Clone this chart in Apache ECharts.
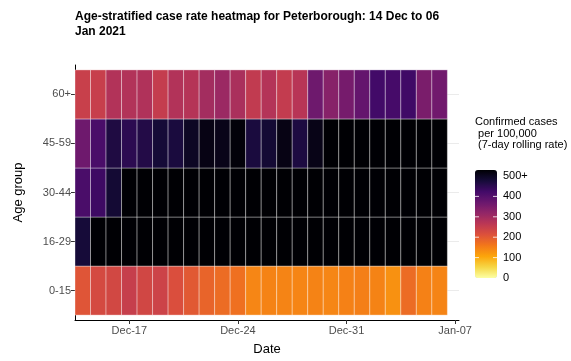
<!DOCTYPE html>
<html><head><meta charset="utf-8">
<script src="https://cdn.jsdelivr.net/npm/echarts@6/dist/echarts.min.js"></script>
<style>html,body{margin:0;padding:0;background:#fff}#c{width:571px;height:361px}</style>
</head><body><div id="c"></div>
<script>
// ---- data ----
const dates = ['2020-12-14','2020-12-15','2020-12-16','2020-12-17','2020-12-18','2020-12-19','2020-12-20','2020-12-21',
  '2020-12-22','2020-12-23','2020-12-24','2020-12-25','2020-12-26','2020-12-27','2020-12-28','2020-12-29',
  '2020-12-30','2020-12-31','2021-01-01','2021-01-02','2021-01-03','2021-01-04','2021-01-05','2021-01-06'];
const ageGroups = ['0-15','16-29','30-44','45-59','60+'];
// 7-day rolling case rate per 100,000 (values of 500 mean "500+")
const rate_0_15  = [195,213,218,235,220,226,205,190,176,166,160,135,138,137,136,138,135,140,142,138,122,166,140,137];
const rate_16_29 = [450,500,500,500,500,500,500,500,500,500,500,500,500,500,500,500,500,500,500,500,500,500,500,500];
const rate_30_44 = [390,405,455,500,500,500,500,500,500,500,500,500,500,500,500,500,500,500,500,500,500,500,500,500];
const rate_45_59 = [345,390,440,425,435,452,445,470,485,480,495,445,455,485,442,482,500,500,500,500,500,500,500,500];
const rate_60p   = [232,234,262,262,265,238,262,258,280,290,272,242,260,240,255,345,315,335,358,400,395,402,330,342];
const xTickDays = [3,10,17,24];
const xTickLabels = ['Dec-17','Dec-24','Dec-31','Jan-07'];
const legendBreaks = [500,400,300,200,100,0];
const legendLabels = ['500+','400','300','200','100','0'];
const infernoRev = ['#FCFFA4','#F6D746','#FCA50A','#F37819','#DD513A','#BC3754','#932667','#6A176E','#420A68','#160B39','#000004'];

const rows = [rate_0_15, rate_16_29, rate_30_44, rate_45_59, rate_60p];
const cells = [];
rows.forEach((arr, r) => arr.forEach((v, d) => cells.push([d, r, Math.min(v, 500)])));

const FONT = '"Liberation Sans", Arial, sans-serif';
const chart = echarts.init(document.getElementById('c'), null, {renderer: 'canvas'});

// legend geometry
const barLeft = 475, barTop = 170, barW = 22, barH = 108;
const yOf = v => barTop + barH - v / 500 * (barH - 6);
const graphics = [];
graphics.push({type: 'text', left: 475, top: 116, style: {
  text: 'Confirmed cases\n per 100,000\n (7-day rolling rate)', font: '11px ' + FONT, fill: '#000', lineHeight: 11.7}});
legendBreaks.forEach((b, i) => {
  graphics.push({type: 'text', x: 503, y: yOf(b), style: {text: legendLabels[i], font: '11px ' + FONT,
    fill: '#000', verticalAlign: 'middle', align: 'left'}});
  if (b > 0 && b < 500) {
    graphics.push({type: 'line', shape: {x1: barLeft, y1: yOf(b), x2: barLeft + 4, y2: yOf(b)}, style: {stroke: 'rgba(255,255,255,0.8)', lineWidth: 1}, z: 100});
    graphics.push({type: 'line', shape: {x1: barLeft + barW - 4, y1: yOf(b), x2: barLeft + barW, y2: yOf(b)}, style: {stroke: 'rgba(255,255,255,0.8)', lineWidth: 1}, z: 100});
  }
});

chart.setOption({
  animation: false,
  backgroundColor: '#fff',
  title: {
    text: 'Age-stratified case rate heatmap for Peterborough: 14 Dec to 06\nJan 2021',
    left: 75, top: 9, padding: 0,
    textStyle: {fontFamily: FONT, fontSize: 12, fontWeight: 'bold', color: '#000', lineHeight: 15}
  },
  grid: {left: 75, right: 112, top: 65, bottom: 36, containLabel: false},
  xAxis: {
    type: 'value', min: -0.5, max: 24.25,
    name: 'Date', nameLocation: 'middle', nameGap: 23,
    nameTextStyle: {fontFamily: FONT, fontSize: 13, color: '#000'},
    axisLine: {show: true, onZero: false, lineStyle: {color: '#000', width: 1}},
    axisTick: {show: true, length: 4, lineStyle: {color: '#333'}, customValues: xTickDays},
    axisLabel: {customValues: xTickDays, formatter: v => xTickLabels[xTickDays.indexOf(v)] || '',
      fontFamily: FONT, fontSize: 11, color: '#4D4D4D', margin: 5},
    splitLine: {show: false}
  },
  yAxis: {
    type: 'value', min: -0.6, max: 4.6,
    name: 'Age group', nameLocation: 'middle', nameGap: 50, nameRotate: 90,
    nameTextStyle: {fontFamily: FONT, fontSize: 13, color: '#000'},
    axisLine: {show: true, onZero: false, lineStyle: {color: '#000', width: 1}},
    axisTick: {show: true, length: 4, lineStyle: {color: '#333'}, customValues: [0,1,2,3,4]},
    axisLabel: {customValues: [0,1,2,3,4], formatter: v => ageGroups[v] || '',
      fontFamily: FONT, fontSize: 11, color: '#4D4D4D', margin: 4},
    splitLine: {show: true, lineStyle: {color: '#EBEBEB', width: 1}},
    splitNumber: 5, interval: 1
  },
  visualMap: {
    type: 'continuous', seriesIndex: 0, dimension: 2, min: 0, max: 500,
    calculable: false, show: true, orient: 'vertical',
    left: barLeft, top: barTop, itemWidth: barW, itemHeight: barH, padding: 0,
    text: null, showLabel: false,
    inRange: {color: infernoRev}
  },
  graphic: graphics,
  series: [{
    type: 'custom',
    data: cells,
    encode: {x: 0, y: 1},
    renderItem: function (params, api) {
      const c = api.coord([api.value(0), api.value(1)]);
      const s = api.size([1, 1]);
      return {type: 'rect', shape: {x: c[0] - s[0] / 2, y: c[1] - s[1] / 2, width: s[0], height: s[1]},
        style: {fill: api.visual('color'), stroke: 'rgba(255,255,255,0.35)', lineWidth: 1}};
    }
  }]
});
</script></body></html>
